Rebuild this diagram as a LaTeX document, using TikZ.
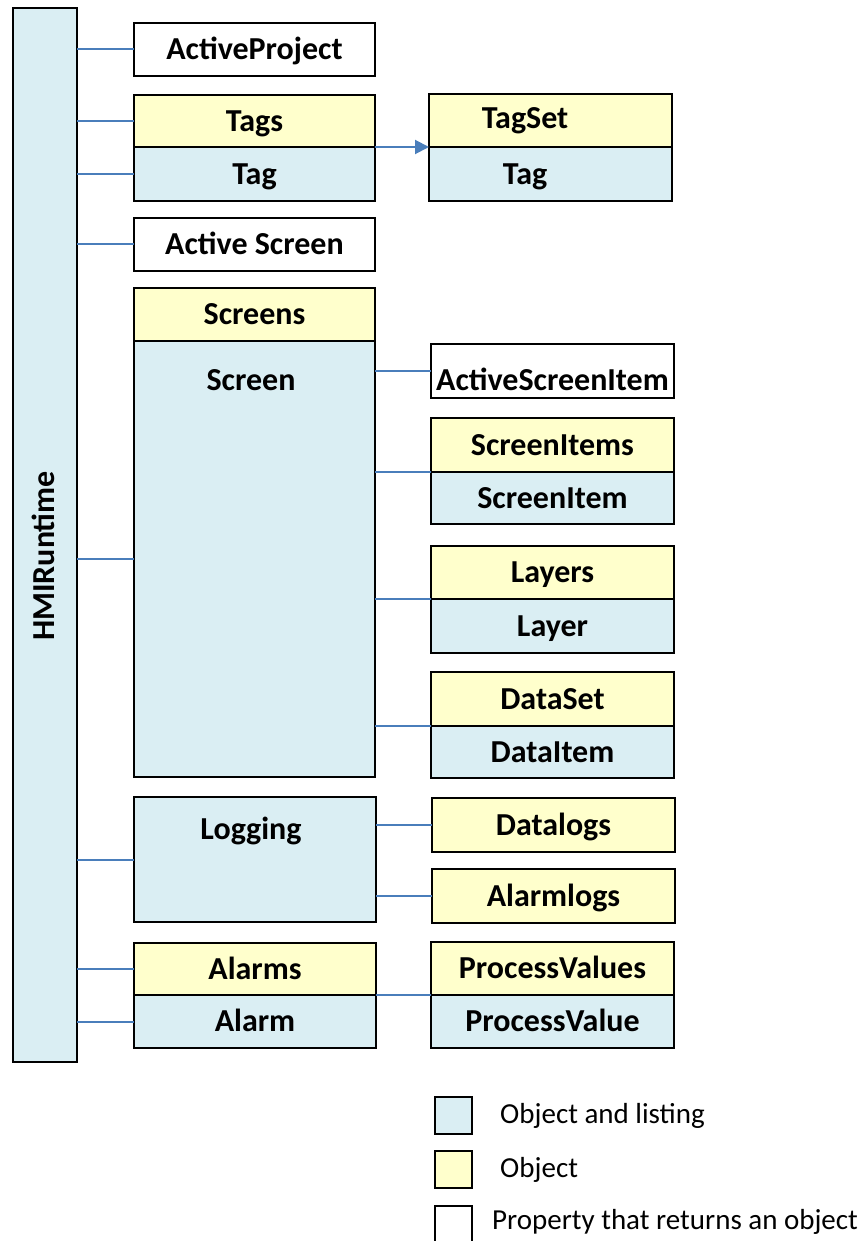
\documentclass[tikz,border=0pt]{standalone}
\usepackage{fontspec}
\setmainfont{Carlito}
\usetikzlibrary{arrows.meta}

\definecolor{listblue}{HTML}{DAEEF3}
\definecolor{objyellow}{HTML}{FFFFCC}
\definecolor{linkblue}{HTML}{4A7EBB}

% box from top-left (#3,#4) to bottom-right (#5,#6)
\newcommand\bx[7]{%
  \node[#1, anchor=north west, minimum width={#5-#3}, minimum height={#6-#4}]
    (#2) at (#3,#4) {#7};}

\begin{document}
\begin{tikzpicture}[x=1pt, y=-1pt,
  base/.style={draw=black, line width=2.6pt, inner sep=0pt, outer sep=0pt,
    font=\fontsize{32}{32}\selectfont\bfseries, text height=20.5pt, text depth=0pt},
  listing/.style={base, fill=listblue},
  object/.style={base, fill=objyellow},
  property/.style={base, fill=white},
  lbl/.style={inner sep=0pt, font=\fontsize{32}{32}\selectfont\bfseries,
    text height=20.5pt, text depth=0pt},
  legtxt/.style={inner sep=0pt, anchor=west, font=\fontsize{29}{29}\selectfont,
    text height=18.7pt, text depth=0pt},
  conn/.style={draw=linkblue, line width=2pt},
]
\useasboundingbox (0,0) rectangle (866,1241);

% root object
\bx{listing}{hmi}{13}{8}{77}{1062}{}
\node[lbl, rotate=90] (hmilbl) at (44,556) {HMIRuntime};

% first level
\bx{property}{ap}{134}{23}{375}{76}{ActiveProject}
\bx{object}{tags}{134}{95}{375}{147}{Tags}
\bx{listing}{tag}{134}{147}{375}{201}{Tag}
\bx{property}{as}{134}{218}{375}{271}{Active Screen}
\bx{object}{screens}{134}{288}{375}{341}{Screens}
\bx{listing}{screen}{134}{341}{375}{777}{}
\node[lbl] (screenlbl) at (251,380) {Screen};
\bx{listing}{logging}{134}{797}{376}{922}{}
\node[lbl] (logginglbl) at (251,829) {Logging};
\bx{object}{alarms}{134}{943}{376}{995}{Alarms}
\bx{listing}{alarm}{134}{995}{376}{1048}{Alarm}

% second level
\bx{object}{tagset}{429}{94}{672}{147}{}
\node[lbl] (tagsetlbl) at (525,118) {TagSet};
\bx{listing}{tagitem}{429}{147}{672}{201}{}
\node[lbl] (tagitemlbl) at (525,174) {Tag};
\bx{property, text height=38pt}{asi}{431}{344}{674}{398}{ActiveScreenItem}
\bx{object}{sitems}{431}{418}{674}{472}{ScreenItems}
\bx{listing}{sitem}{431}{472}{674}{524}{ScreenItem}
\bx{object}{layers}{431}{546}{674}{599}{Layers}
\bx{listing}{layer}{431}{599}{674}{653}{Layer}
\bx{object}{dataset}{431}{672}{674}{726}{DataSet}
\bx{listing}{dataitem}{431}{726}{674}{778}{DataItem}
\bx{object}{datalogs}{432}{798}{675}{852}{Datalogs}
\bx{object}{alarmlogs}{432}{869}{675}{923}{Alarmlogs}
\bx{object}{pvals}{431}{942}{674}{995}{ProcessValues}
\bx{listing}{pval}{431}{995}{674}{1048}{ProcessValue}

% connectors from the root
\draw[conn] (hmi.east |- ap.west) -- (ap.west);
\draw[conn] (hmi.east |- tags.west) -- (tags.west);
\draw[conn] (hmi.east |- tag.west) -- (tag.west);
\draw[conn] (hmi.east |- as.west) -- (as.west);
\draw[conn] (hmi.east |- screen.west) -- (screen.west);
\draw[conn] (hmi.east |- logging.west) -- (logging.west);
\draw[conn] (hmi.east |- alarms.west) -- (alarms.west);
\draw[conn] (hmi.east |- alarm.west) -- (alarm.west);

% connectors to the second level
\draw[conn, -{Triangle[length=14pt, width=14pt]}] (tags.south east) -- (tagset.south west);
\draw[conn] (screen.east |- asi.west) -- (asi.west);
\draw[conn] (screen.east |- sitems.south west) -- (sitems.south west);
\draw[conn] (screen.east |- layers.south west) -- (layers.south west);
\draw[conn] (screen.east |- dataset.south west) -- (dataset.south west);
\draw[conn] (logging.east |- datalogs.west) -- (datalogs.west);
\draw[conn] (logging.east |- alarmlogs.west) -- (alarmlogs.west);
\draw[conn] (alarms.south east) -- (pvals.south west);

% legend
\bx{listing}{legA}{435}{1097}{472}{1134}{}
\bx{object}{legB}{435}{1151}{472}{1188}{}
\bx{property}{legC}{435}{1206}{472}{1252}{}
\node[legtxt] (legAtxt) at (500,1114) {Object and listing};
\node[legtxt] (legBtxt) at (500,1168) {Object};
\node[legtxt] (legCtxt) at (492,1220) {Property that returns an object};
\end{tikzpicture}
\end{document}
